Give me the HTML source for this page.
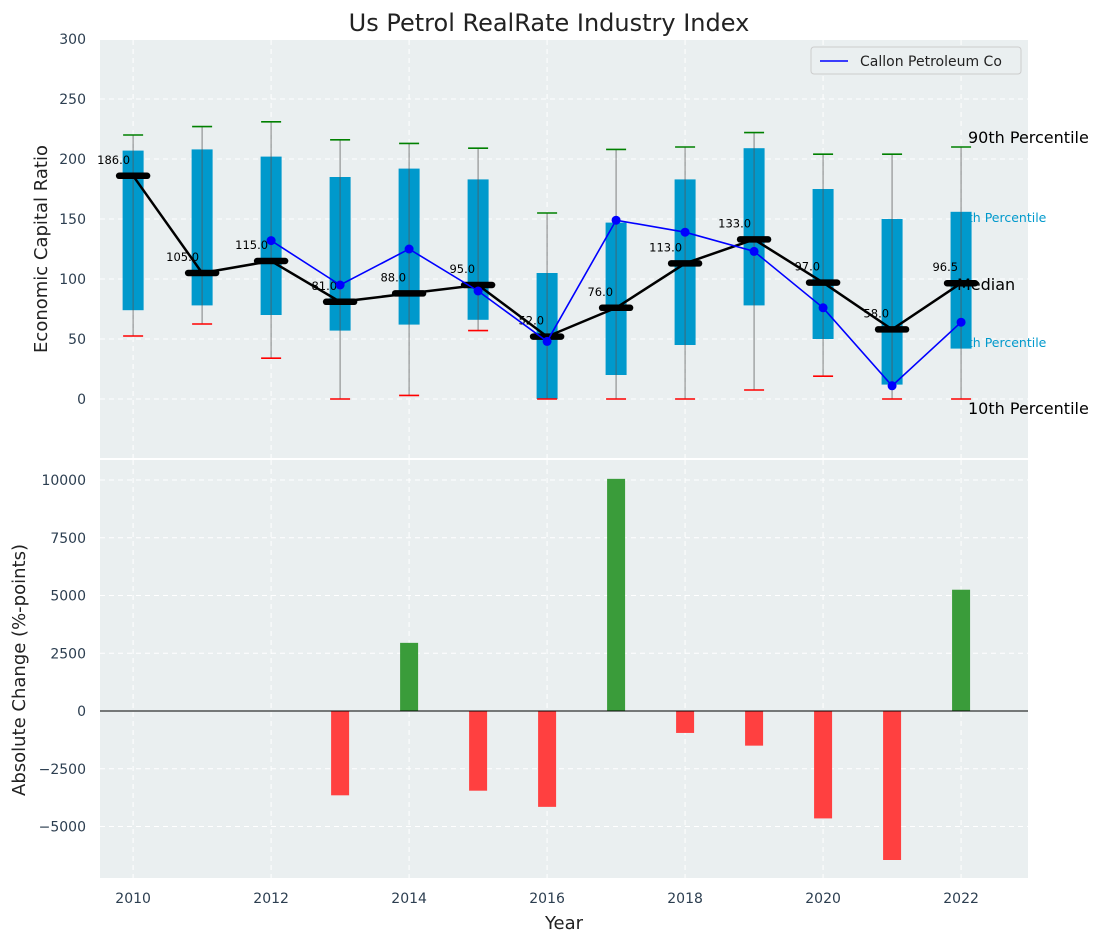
<!DOCTYPE html>
<html><head><meta charset="utf-8"><style>
body{margin:0;background:#fff;}
svg{display:block;font-family:"DejaVu Sans","Liberation Sans",sans-serif;}
</style></head><body>
<svg id="c" width="1103" height="942"></svg>
<script>
const years=[2010,2011,2012,2013,2014,2015,2016,2017,2018,2019,2020,2021,2022];
const p25=[74,78,70,57,62,66,0,20,45,78,50,12,42];
const p75=[207,208,202,185,192,183,105,147,183,209,175,150,156];
const p10=[52.5,62.5,34,0,3,57,0,0,0,7.5,19,0,0];
const p90=[220,227,231,216,213,209,155,208,210,222,204,204,210];
const medians=[186,105,115,81,88,95,52,76,113,133,97,58,96.5];
const company=[null,null,132,95,125,90,48,149,139,123,76,11,64];
const changes=[null,null,null,-3650,2950,-3450,-4150,10050,-950,-1500,-4650,-6450,5250];
const topTicks=[0,50,100,150,200,250,300];
const botTicks=[-5000,-2500,0,2500,5000,7500,10000];
const xTicks=[2010,2012,2014,2016,2018,2020,2022];

const NS='http://www.w3.org/2000/svg';
const svg=document.getElementById('c');
function el(tag,attrs,parent,text){const e=document.createElementNS(NS,tag);for(const k in attrs)e.setAttribute(k,attrs[k]);if(text!=null)e.textContent=text;(parent||svg).appendChild(e);return e;}
const L=100,R=1028;
const X=v=>L+(v-2009.52)/(2022.97-2009.52)*(R-L);
const YT=v=>399-v*1.2;
const YB=v=>711-v*0.0231;

let e=el('rect',{x:L,y:40,width:R-L,height:418,fill:'#eaeff0'});

e=el('rect',{x:L,y:460,width:R-L,height:418,fill:'#eaeff0'});


xTicks.forEach(t=>{
 el('line',{x1:X(t),x2:X(t),y1:40,y2:458,stroke:'#fff','stroke-dasharray':'5,4','stroke-width':1});
 el('line',{x1:X(t),x2:X(t),y1:460,y2:878,stroke:'#fff','stroke-dasharray':'5,4','stroke-width':1});
 e=el('text',{x:X(t),y:903,'text-anchor':'middle','font-size':14,fill:'#2c3e50'},null,t);
 
});
topTicks.forEach(t=>{
 el('line',{x1:L,x2:R,y1:YT(t),y2:YT(t),stroke:'#fff','stroke-dasharray':'5,4'});
 e=el('text',{x:86,y:YT(t)+5,'text-anchor':'end','font-size':14,fill:'#2c3e50'},null,t);
 
});
botTicks.forEach(t=>{
 el('line',{x1:L,x2:R,y1:YB(t),y2:YB(t),stroke:'#fff','stroke-dasharray':'5,4'});
 e=el('text',{x:86,y:YB(t)+5,'text-anchor':'end','font-size':14,fill:'#2c3e50'},null,t<0?'\u2212'+(-t):t);
 
});

// small percentile annotations (drawn first so last box hides their start)
[['75th Percentile',952,222],['25th Percentile',952,347]].forEach(a=>{
 e=el('text',{x:a[1],y:a[2],'font-size':12.5,fill:'#0099cc'},null,a[0]);
 
});

years.forEach((y,i)=>{
 const x=X(y);
 e=el('rect',{x:x-10.5,y:YT(p75[i]),width:21,height:YT(p25[i])-YT(p75[i]),fill:'#0099cc'});
 
 e=el('line',{x1:x,x2:x,y1:YT(p10[i]),y2:YT(p90[i]),stroke:'#555','stroke-opacity':0.6,'stroke-width':1.2});
 
 e=el('line',{x1:x-10,x2:x+10,y1:YT(p90[i]),y2:YT(p90[i]),stroke:'green','stroke-width':1.6});
 
 e=el('line',{x1:x-10,x2:x+10,y1:YT(p10[i]),y2:YT(p10[i]),stroke:'red','stroke-width':1.6});
 
});
e=el('polyline',{points:years.map((y,i)=>X(y)+','+YT(medians[i])).join(' '),fill:'none',stroke:'#000','stroke-width':2.5});

years.forEach((y,i)=>{
 const x=X(y);
 e=el('line',{x1:x-14,x2:x+14,y1:YT(medians[i]),y2:YT(medians[i]),stroke:'#000','stroke-width':6.5,'stroke-linecap':'round'});
 
 e=el('text',{x:x-3,y:YT(medians[i])-12,'text-anchor':'end','font-size':11.5,fill:'#000'},null,medians[i].toFixed(1));
 
});
const pts=years.map((y,i)=>company[i]==null?null:[X(y),YT(company[i])]).filter(p=>p);
e=el('polyline',{points:pts.map(p=>p.join(',')).join(' '),fill:'none',stroke:'blue','stroke-width':1.6});

pts.forEach(p=>{e=el('circle',{cx:p[0],cy:p[1],r:4.5,fill:'blue'});
 });

[['90th Percentile',968,143],['Median',957,290],['10th Percentile',968,414]].forEach(a=>{
 e=el('text',{x:a[1],y:a[2],'font-size':16,fill:'#000'},null,a[0]);
 
});

const lg=el('g',{});

el('rect',{x:811,y:47,width:210,height:27,rx:3,fill:'#eaeff0',stroke:'#ccc'},lg);
el('line',{x1:820,x2:848,y1:61,y2:61,stroke:'blue','stroke-width':1.6},lg);
el('text',{x:860,y:66,'font-size':14,fill:'#222'},lg,'Callon Petroleum Co');

years.forEach((y,i)=>{
 if(changes[i]==null)return;
 const v=changes[i];
 e=el('rect',{x:X(y)-9,y:Math.min(YB(v),YB(0)),width:18,height:Math.abs(YB(v)-YB(0)),fill:v>=0?'#3a9c3a':'#ff4040'});
 
});
el('line',{x1:L,x2:R,y1:YB(0),y2:YB(0),stroke:'#000','stroke-width':1});

e=el('text',{x:549,y:31,'text-anchor':'middle','font-size':24,fill:'#222'},null,'Us Petrol RealRate Industry Index');

e=el('text',{x:0,y:0,'text-anchor':'middle','font-size':18,fill:'#222',transform:'translate(47,249) rotate(-90)'},null,'Economic Capital Ratio');

e=el('text',{x:0,y:0,'text-anchor':'middle','font-size':18,fill:'#222',transform:'translate(25,670) rotate(-90)'},null,'Absolute Change (%-points)');

e=el('text',{x:564,y:929,'text-anchor':'middle','font-size':18,fill:'#222'},null,'Year');

</script>
</body></html>
